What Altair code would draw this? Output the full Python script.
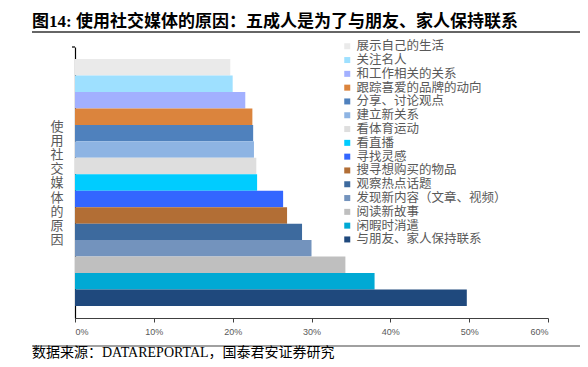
import altair as alt
import pandas as pd

categories = [
    "展示自己的生活", "关注名人", "和工作相关的关系", "跟踪喜爱的品牌的动向",
    "分享、讨论观点", "建立新关系", "看体育运动", "看直播", "寻找灵感",
    "搜寻想购买的物品", "观察热点话题", "发现新内容（文章、视频）", "阅读新故事",
    "闲暇时消遣", "与朋友、家人保持联系",
]
values = [0.197, 0.200, 0.216, 0.225, 0.226, 0.227, 0.230, 0.231, 0.264,
          0.269, 0.288, 0.300, 0.343, 0.380, 0.497]
colors = ["#EAEAEA", "#9EE0FF", "#A2B0FF", "#DB843D", "#4F81BD", "#8EB4E3",
          "#DEDEDE", "#00CCFF", "#3366FF", "#B26E35", "#3D6A9E", "#7393BD",
          "#BFBFBF", "#00A9D4", "#1F497D"]
x_ticks = [0, 0.1, 0.2, 0.3, 0.4, 0.5, 0.6]

title_text = "图14:  使用社交媒体的原因：五成人是为了与朋友、家人保持联系"
source_text = "数据来源：DATAREPORTAL，国泰君安证券研究"
y_title = "使用社交媒体的原因"

df = pd.DataFrame({"reason": categories, "share": values})
one = pd.DataFrame({"k": [0]})

W, H = 473, 271
CJK = "Noto Sans CJK SC"
MIX = "Liberation Serif, Noto Sans CJK SC"

bars = alt.Chart(df).mark_bar(clip=False).encode(
    x=alt.X("share:Q",
            scale=alt.Scale(domain=[0, 0.6], nice=False, zero=True),
            axis=alt.Axis(values=x_ticks, format=".0%", grid=False, title=None,
                          labelFontSize=9, labelColor="#595959",
                          labelFont="Liberation Sans Narrow, Liberation Sans",
                          tickSize=4, tickColor="#404040", domainColor="#404040",
                          labelPadding=5)),
    y=alt.Y("reason:N", sort=categories,
            scale=alt.Scale(paddingInner=0, paddingOuter=0.73),
            axis=alt.Axis(labels=False, ticks=False, title=None,
                          domainColor="#000000", domainWidth=1.2)),
    color=alt.Color("reason:N", sort=categories,
                    scale=alt.Scale(domain=categories, range=colors),
                    legend=alt.Legend(orient="none", legendX=266, legendY=-7,
                                      title=None, symbolType="square",
                                      symbolSize=36, symbolStrokeWidth=0,
                                      labelFontSize=12.5, labelFont=CJK,
                                      labelColor="#595959", labelOffset=3,
                                      rowPadding=0.8, padding=0,
                                      labelLimit=300)),
)

hook = alt.Chart(one).mark_rule(color="#000000", strokeWidth=1.2).encode(
    x=alt.value(-3), x2=alt.value(0), y=alt.value(0))

ytitle = alt.Chart(one).mark_text(
    text="\n".join(y_title), lineBreak="\n", lineHeight=14.1, fontSize=13,
    font=CJK, color="#595959", align="center", baseline="middle"
).encode(x=alt.value(-18), y=alt.value(80))

title = alt.Chart(one).mark_text(
    text=title_text, fontSize=17, fontWeight="bold", font=MIX, color="#000000",
    align="left", baseline="middle"
).encode(x=alt.value(-43), y=alt.value(-25))

top_rule = alt.Chart(one).mark_rule(color="#333333", strokeWidth=1.5).encode(
    x=alt.value(-43), x2=alt.value(505), y=alt.value(-15))

bottom_rule = alt.Chart(one).mark_rule(color="#808080", strokeWidth=1.5).encode(
    x=alt.value(-43), x2=alt.value(505), y=alt.value(299))

source = alt.Chart(one).mark_text(
    text=source_text, fontSize=14, font=MIX, color="#000000",
    align="left", baseline="middle"
).encode(x=alt.value(-43), y=alt.value(306))

chart = alt.layer(bars, hook, ytitle, title, top_rule, bottom_rule, source).properties(
    width=W, height=H,
    autosize=alt.AutoSizeParams(type="none"),
    padding={"left": 67, "top": 39, "right": 32, "bottom": 41},
).configure_view(stroke=None)

chart.save("out.html", embed_options={"renderer": "svg", "actions": False})
